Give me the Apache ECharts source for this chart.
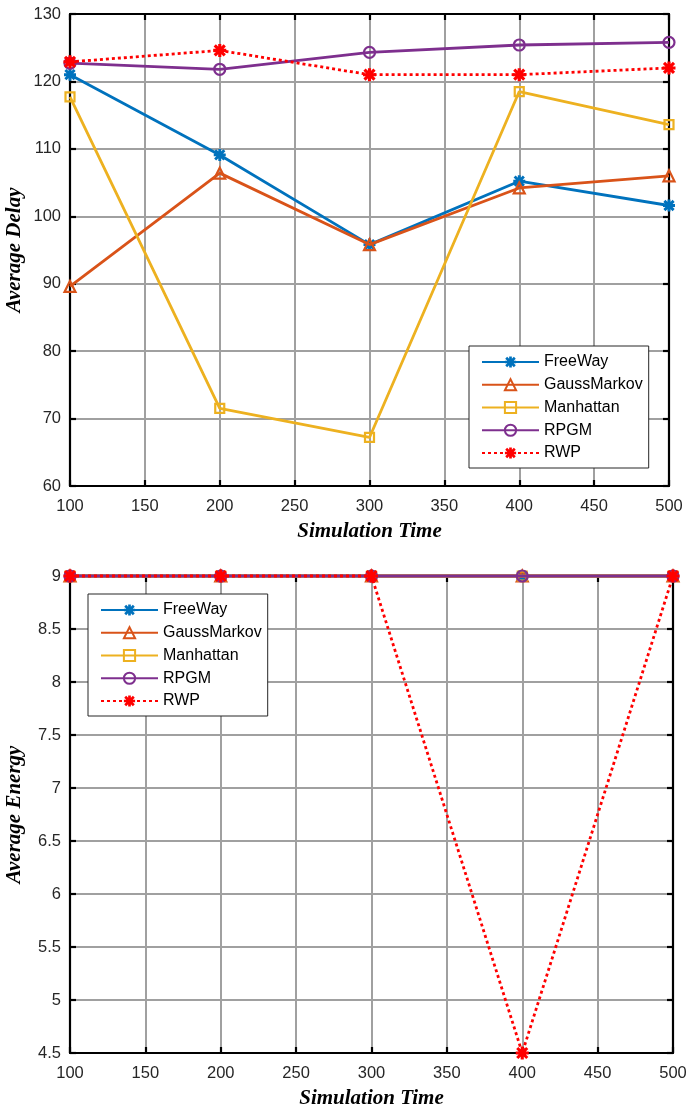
<!DOCTYPE html>
<html><head><meta charset="utf-8">
<script src="https://cdn.jsdelivr.net/npm/echarts@6/dist/echarts.min.js"></script>
<style>html,body{margin:0;padding:0;background:#fff}#c{width:686px;height:1111px}</style>
</head><body><div id="c"></div>
<script>
const times = [100, 200, 300, 400, 500];
const seriesNames = ['FreeWay', 'GaussMarkov', 'Manhattan', 'RPGM', 'RWP'];
const delayFreeWay = [121.0, 109.1, 95.8, 105.2, 101.6];
const delayGaussMarkov = [89.6, 106.4, 95.8, 104.2, 106.0];
const delayManhattan = [117.7, 71.5, 67.2, 118.5, 113.6];
const delayRPGM = [122.7, 121.8, 124.3, 125.4, 125.8];
const delayRWP = [122.9, 124.6, 121.0, 121.0, 122.0];
const energyFreeWay = [9, 9, 9, 9, 9];
const energyGaussMarkov = [9, 9, 9, 9, 9];
const energyManhattan = [9, 9, 9, 9, 9];
const energyRPGM = [9, 9, 9, 9, 9];
const energyRWP = [9, 9, 9, 4.5, 9];

const ast = 'path://M0,3.8L10,3.8L10,6.2L0,6.2ZM6.2,0L6.2,10L3.8,10L3.8,0ZM2.0,0.3L9.7,8.0L8.0,9.7L0.3,2.0ZM0.3,8.0L8.0,0.3L9.7,2.0L2.0,9.7Z';
const styles = [
  {color:'#0072BD', symbol: ast, size: 12, fill:'#0072BD', type:'solid'},
  {color:'#D95319', symbol:'triangle', size: 11, fill:'rgba(255,255,255,0)', type:'solid'},
  {color:'#EDB120', symbol:'rect', size: 9, fill:'rgba(255,255,255,0)', type:'solid'},
  {color:'#7E2F8E', symbol:'circle', size: 11, fill:'rgba(255,255,255,0)', type:'solid'},
  {color:'#FF0000', symbol: ast, size: 13, fill:'#FF0000', type:[3,3]}
];
const delayData = [delayFreeWay, delayGaussMarkov, delayManhattan, delayRPGM, delayRWP];
const energyData = [energyFreeWay, energyGaussMarkov, energyManhattan, energyRPGM, energyRWP];

function mk(name, i, vals, xi, yi) {
  const s = styles[i];
  return {
    name: name, type:'line', xAxisIndex: xi, yAxisIndex: yi,
    data: times.map((t, k) => [t, vals[k]]),
    symbol: s.symbol, symbolSize: s.size, showAllSymbol: true, clip: false,
    lineStyle: {color: s.color, width: 2.8, type: s.type},
    itemStyle: {color: s.fill, borderColor: s.color, borderWidth: (s.symbol === ast ? 0 : 2.2)},
    emphasis: {disabled: true}, animation: false, z: 2 + i
  };
}
const series = [];
seriesNames.forEach((n, i) => series.push(mk(n, i, delayData[i], 0, 0)));
seriesNames.forEach((n, i) => series.push(mk(n, i, energyData[i], 2, 2)));

const lbl = {color:'#262626', fontFamily:'Liberation Sans, Arial', fontSize:16.5};
const nameStyle = {color:'#000', fontFamily:'Liberation Serif, Times New Roman', fontStyle:'italic', fontWeight:'bold', fontSize:21};
const axLine = {show:true, onZero:false, lineStyle:{color:'#000', width:2.2}};
const tick = {show:true, inside:true, length:6, lineStyle:{color:'#000', width:2.2}};
const split = {show:true, lineStyle:{color:'#a0a0a0', width:2}};

function xAx(grid, bottom, name) {
  return {
    type:'value', gridIndex: grid, position: bottom ? 'bottom' : 'top',
    min:100, max:500, interval:50,
    axisLine: axLine, axisTick: tick, splitLine: bottom ? split : {show:false},
    axisLabel: bottom ? Object.assign({margin:12}, lbl) : {show:false},
    name: bottom ? name : '', nameLocation:'middle', nameGap: 35, nameTextStyle: nameStyle
  };
}
function yAx(grid, left, min, max, interval, name) {
  return {
    type:'value', gridIndex: grid, position: left ? 'left' : 'right',
    min:min, max:max, interval:interval,
    axisLine: axLine, axisTick: tick, splitLine: left ? split : {show:false},
    axisLabel: left ? Object.assign({margin:9}, lbl) : {show:false},
    name: left ? name : '', nameLocation:'middle', nameGap: 45, nameMoveOverlap: false,
    nameRotate: 90, nameTextStyle: nameStyle
  };
}
function leg(left, top) {
  return {
    data: seriesNames, orient:'vertical', left:left, top:top,
    backgroundColor:'#fff', borderColor:'#262626', borderWidth:1,
    padding:[8, 6, 7, 12], itemWidth:57, itemHeight:14, itemGap:6.75,
    textStyle: Object.assign({}, lbl, {color:'#000', fontSize:16, lineHeight:16}), selectedMode:false
  };
}

const chart = echarts.init(document.getElementById('c'));
chart.setOption({
  backgroundColor:'#fff', animation:false,
  grid: [
    {left:70, top:14, width:599, height:472, containLabel:false, outerBoundsMode:'none'},
    {left:70, top:576, width:603, height:477, containLabel:false, outerBoundsMode:'none'}
  ],
  xAxis: [xAx(0, true, 'Simulation Time'), xAx(0, false), xAx(1, true, 'Simulation Time'), xAx(1, false)],
  yAxis: [yAx(0, true, 60, 130, 10, 'Average Delay'), yAx(0, false, 60, 130, 10),
          yAx(1, true, 4.5, 9, 0.5, 'Average Energy'), yAx(1, false, 4.5, 9, 0.5)],
  legend: [leg(469, 346), leg(88, 594)],
  series: series
});
</script></body></html>
